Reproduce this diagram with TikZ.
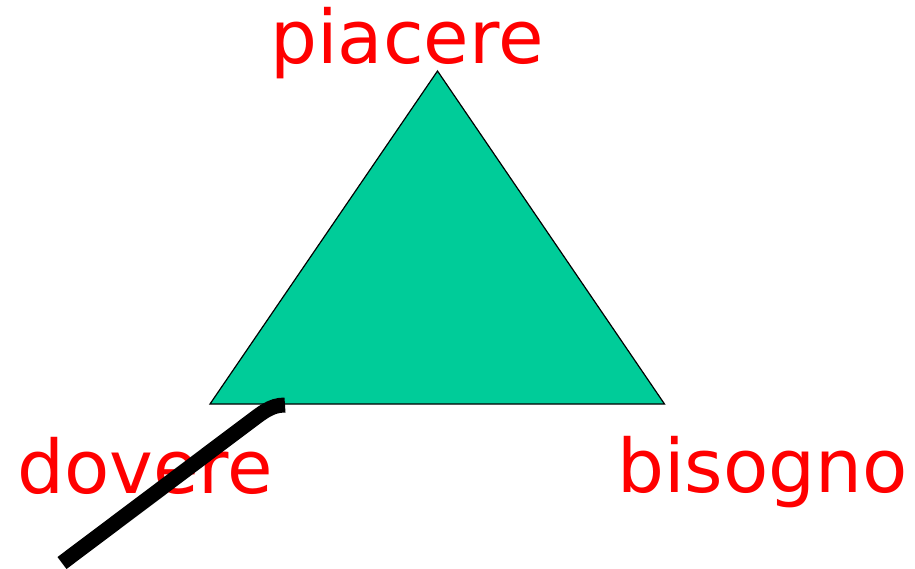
\documentclass[tikz,border=0pt]{standalone}
\usepackage{fontspec}
\setmainfont{DejaVu Sans}
\definecolor{teal1}{HTML}{00CC99}
\definecolor{red1}{HTML}{FF0000}
\tikzset{
  lbl/.style={anchor=base west, inner sep=0pt, text=red1, font=\fontsize{74}{82}\selectfont},
  tri/.style={fill=teal1, draw=black, line width=1.2pt, line join=miter},
  stroke/.style={draw=black, line width=15pt, line cap=butt}
}
\begin{document}
\begin{tikzpicture}[x=1pt,y=-1pt]
\useasboundingbox (0,0) rectangle (915,568);
\coordinate (top) at (437.5,71);
\coordinate (bl) at (210,404);
\coordinate (br) at (664.5,404);
\draw[tri] (top) -- (br) -- (bl) -- cycle;
\node[lbl] (piacere) at (270,63) {piacere};
\node[lbl] (dovere) at (17,493) {dovere};
\node[lbl] (bisogno) at (617,492) {bisogno};
\coordinate (s0) at (62,563);
\coordinate (s1) at (243,427);
\coordinate (s2) at (285,405);
\draw[stroke] (s0) -- (s1) .. controls (262,413) and (270,405) .. (s2);
\end{tikzpicture}
\end{document}
